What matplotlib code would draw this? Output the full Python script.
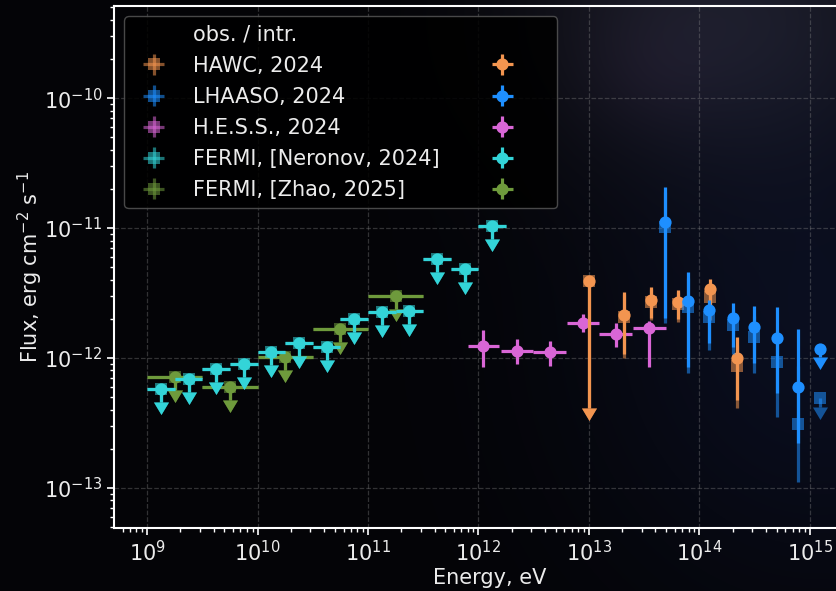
import numpy as np
import matplotlib
matplotlib.use("Agg")
import matplotlib.pyplot as plt
from matplotlib.markers import MarkerStyle
from matplotlib.path import Path
from matplotlib.ticker import LogLocator, NullFormatter

# ---------------- data ----------------
hawc_E = [1.0e13, 2.09e13, 3.67e13, 6.46e13, 1.26e14, 2.19e14]
hawc_intr = [3.9e-12, 2.14e-12, 2.79e-12, 2.70e-12, 3.40e-12, 1.00e-12]
hawc_intr_hi = [3.9e-12, 3.22e-12, 3.51e-12, 3.33e-12, 4.06e-12, 1.45e-12]
hawc_intr_lo = [4.1e-13, 1.07e-12, 2.03e-12, 2.00e-12, 2.26e-12, 4.75e-13]
hawc_obs = [3.9e-12, 2.08e-12, 2.70e-12, 2.60e-12, 2.94e-12, 8.7e-13]
hawc_obs_hi = [3.9e-12, 3.1e-12, 3.4e-12, 3.2e-12, 3.5e-12, 1.26e-12]
hawc_obs_lo = [4.1e-13, 1.0e-12, 1.95e-12, 1.9e-12, 1.95e-12, 4.1e-13]
hawc_ul = [True, False, False, False, False, False]

lhaaso_E = [4.9e13, 7.9e13, 1.23e14, 2.0e14, 3.15e14, 5.0e14, 7.9e14, 1.25e15]
lhaaso_intr = [1.11e-11, 2.74e-12, 2.34e-12, 2.03e-12, 1.73e-12, 1.43e-12, 5.98e-13, 1.17e-12]
lhaaso_intr_hi = [2.07e-11, 4.59e-12, 2.79e-12, 2.65e-12, 2.51e-12, 2.47e-12, 1.67e-12, 1.17e-12]
lhaaso_intr_lo = [2.03e-12, 8.5e-13, 1.30e-12, 1.22e-12, 9.2e-13, 5.4e-13, 2.22e-13, 1.02e-12]
lhaaso_obs = [1.02e-11, 2.47e-12, 2.07e-12, 1.79e-12, 1.45e-12, 9.3e-13, 3.1e-13, 4.9e-13]
lhaaso_obs_hi = [1.9e-11, 4.1e-12, 2.47e-12, 2.33e-12, 2.1e-12, 1.6e-12, 8.7e-13, 4.9e-13]
lhaaso_obs_lo = [1.87e-12, 7.7e-13, 1.15e-12, 1.07e-12, 7.7e-13, 3.5e-13, 1.11e-13, 4.2e-13]
lhaaso_ul = [False, False, False, False, False, False, False, True]

hess_E = [1.10e12, 2.24e12, 4.47e12, 8.9e12, 1.77e13, 3.52e13]
hess_E_lo = [8.1e11, 1.61e12, 3.13e12, 6.37e12, 1.24e13, 2.52e13]
hess_E_hi = [1.54e12, 3.13e12, 6.24e12, 1.24e13, 2.47e13, 5.0e13]
hess_flux = [1.24e-12, 1.13e-12, 1.11e-12, 1.86e-12, 1.53e-12, 1.70e-12]
hess_flux_hi = [1.64e-12, 1.40e-12, 1.35e-12, 2.18e-12, 1.86e-12, 1.93e-12]
hess_flux_lo = [8.5e-13, 9.0e-13, 8.7e-13, 1.58e-12, 1.22e-12, 8.5e-13]

fermi_n_E = [1.33e9, 2.37e9, 4.22e9, 7.5e9, 1.33e10, 2.37e10, 4.22e10,
             7.5e10, 1.33e11, 2.37e11, 4.22e11, 7.5e11, 1.33e12]
fermi_n_edges = [1e9, 1.78e9, 3.16e9, 5.62e9, 1e10, 1.78e10, 3.16e10,
                 5.62e10, 1e11, 1.78e11, 3.16e11, 5.62e11, 1e12, 1.78e12]
fermi_n_ul = [5.78e-13, 6.9e-13, 8.2e-13, 9.0e-13, 1.11e-12, 1.30e-12, 1.22e-12,
              2.0e-12, 2.26e-12, 2.30e-12, 5.78e-12, 4.84e-12, 1.035e-11]

fermi_z_E = [1.78e9, 5.62e9, 1.78e10, 5.62e10, 1.78e11]
fermi_z_edges = [1e9, 3.16e9, 1e10, 3.16e10, 1e11, 3.16e11]
fermi_z_ul = [7.14e-13, 5.98e-13, 1.02e-12, 1.67e-12, 3.0e-12]

labels = ["HAWC, 2024", "LHAASO, 2024", "H.E.S.S., 2024",
          "FERMI, [Neronov, 2024]", "FERMI, [Zhao, 2025]"]
header = "obs. / intr."

x_ticks = [1e9, 1e10, 1e11, 1e12, 1e13, 1e14, 1e15]
y_ticks = [1e-13, 1e-12, 1e-11, 1e-10]

# ---------------- style ----------------
C_HAWC = "#f39550"
C_LHAASO = "#1e8fff"
C_HESS = "#d966d6"
C_FN = "#33d4d8"
C_FZ = "#6e9a3c"
TXT = "#ececec"
MS = 8.8
LW = 2.3
OBS_ALPHA = 0.55
UL_FRAC = 0.21
FS = 15

plt.rcParams["font.family"] = ["DejaVu Sans"]

W, H = 836, 591
fig = plt.figure(figsize=(W / 100, H / 100), dpi=100, facecolor="black")

# background glow (pixel image behind everything)
yy, xx = np.mgrid[0:1:H * 1j, 0:1:W * 1j]
img = np.zeros((H, W, 3))
img += np.array([4, 4, 7]) / 255.0
g1 = np.exp(-(((xx - 0.86) / 0.24) ** 2 + ((yy - 0.02) / 0.25) ** 2))
img += g1[..., None] * np.array([24, 24, 32]) / 255.0
g2 = np.exp(-(((xx - 0.98) / 0.28) ** 2 + ((yy - 0.55) / 0.45) ** 2))
img += g2[..., None] * np.array([6, 10, 24]) / 255.0
g3 = np.exp(-(((xx - 0.78) / 0.08) ** 2 + ((yy - 0.12) / 0.1) ** 2))
img += g3[..., None] * np.array([5, 2, 5]) / 255.0
fig.figimage(np.clip(img, 0, 1), xo=0, yo=0, origin="upper", zorder=-10)

ax = fig.add_axes([114 / W, 63 / H, (865 - 114) / W, (528 - 6) / H])
ax.set_facecolor("none")
ax.set_xscale("log")
ax.set_yscale("log")
ax.set_xlim(10 ** 8.70, 10 ** 15.50)
ax.set_ylim(10 ** -13.31, 10 ** -9.29)
ax.set_xticks(x_ticks)
ax.set_yticks(y_ticks)
ax.xaxis.set_minor_locator(LogLocator(base=10, subs=np.arange(2, 10), numticks=30))
ax.yaxis.set_minor_locator(LogLocator(base=10, subs=np.arange(2, 10), numticks=30))
ax.xaxis.set_minor_formatter(NullFormatter())
ax.yaxis.set_minor_formatter(NullFormatter())

arrow_marker = MarkerStyle(Path([(-0.6, 0.0), (0.6, 0.0), (0.0, -1.0), (-0.6, 0.0)],
                                [Path.MOVETO, Path.LINETO, Path.LINETO, Path.CLOSEPOLY]))


def fix_arrows(container, color, alpha=1.0):
    for cl in container[1]:
        if cl.get_marker() in (11, 10):
            cl.set_marker(arrow_marker)
            cl.set_markersize(18)
            cl.set_markerfacecolor(color)
            cl.set_markeredgewidth(0)
            cl.set_alpha(alpha)


def draw(E, F, lo, hi, ul, color, marker, alpha, xlo=None, xhi=None, z=3):
    F = np.asarray(F)
    yerr = [F - np.asarray(lo), np.asarray(hi) - F]
    xerr = None
    if xlo is not None:
        E_a = np.asarray(E)
        xerr = [E_a - np.asarray(xlo), np.asarray(xhi) - E_a]
    c = ax.errorbar(E, F, yerr=yerr, xerr=xerr, uplims=ul, fmt=marker, color=color,
                    ms=MS, elinewidth=LW, capsize=0, alpha=alpha, mew=0, zorder=z)
    fix_arrows(c, color, alpha)
    return c


# Fermi Zhao
fz_lo = np.asarray(fermi_z_ul) * (1 - UL_FRAC)
draw(fermi_z_E, fermi_z_ul, fz_lo, fermi_z_ul, True, C_FZ, "s", OBS_ALPHA,
     fermi_z_edges[:-1], fermi_z_edges[1:], z=3)
draw(fermi_z_E, fermi_z_ul, fz_lo, fermi_z_ul, True, C_FZ, "o", 1.0,
     fermi_z_edges[:-1], fermi_z_edges[1:], z=4)
# Fermi Neronov
fn_lo = np.asarray(fermi_n_ul) * (1 - UL_FRAC)
draw(fermi_n_E, fermi_n_ul, fn_lo, fermi_n_ul, True, C_FN, "s", OBS_ALPHA,
     fermi_n_edges[:-1], fermi_n_edges[1:], z=5)
draw(fermi_n_E, fermi_n_ul, fn_lo, fermi_n_ul, True, C_FN, "o", 1.0,
     fermi_n_edges[:-1], fermi_n_edges[1:], z=6)
# HESS
draw(hess_E, hess_flux, hess_flux_lo, hess_flux_hi, False, C_HESS, "o", 1.0,
     hess_E_lo, hess_E_hi, z=7)
# HAWC
draw(hawc_E, hawc_obs, hawc_obs_lo, hawc_obs_hi, hawc_ul, C_HAWC, "s", OBS_ALPHA, z=8)
draw(hawc_E, hawc_intr, hawc_intr_lo, hawc_intr_hi, hawc_ul, C_HAWC, "o", 1.0, z=9)
# LHAASO
draw(lhaaso_E, lhaaso_obs, lhaaso_obs_lo, lhaaso_obs_hi, lhaaso_ul, C_LHAASO, "s", OBS_ALPHA, z=10)
draw(lhaaso_E, lhaaso_intr, lhaaso_intr_lo, lhaaso_intr_hi, lhaaso_ul, C_LHAASO, "o", 1.0, z=11)

# axes styling
for s in ax.spines.values():
    s.set_color("white")
    s.set_linewidth(1.5)
ax.tick_params(which="both", colors="white", labelcolor=TXT, labelsize=FS, direction="out")
ax.tick_params(which="major", length=5, width=1.2)
ax.tick_params(which="minor", length=3, width=1.0)
ax.grid(True, which="major", ls="--", color="#8a8a8a", alpha=0.35, lw=0.9)
ax.set_xlabel("Energy, eV", color=TXT, fontsize=FS, labelpad=2)
ax.set_ylabel("Flux, erg cm$^{-2}$ s$^{-1}$", color=TXT, fontsize=FS, labelpad=-1)

# legend proxies
cols = [C_HAWC, C_LHAASO, C_HESS, C_FN, C_FZ]
caps = [3, 3, 0, 3, 3]
obs_h, intr_h = [], []
for col, cp in zip(cols, caps):
    h1 = ax.errorbar([np.nan], [np.nan], xerr=[1.0], yerr=[1.0], fmt="s", color=col,
                     ms=MS, elinewidth=LW, capsize=cp, capthick=LW, alpha=OBS_ALPHA, mew=0)
    h2 = ax.errorbar([np.nan], [np.nan], xerr=[1.0], yerr=[1.0], fmt="o", color=col,
                     ms=MS, elinewidth=LW, capsize=cp, capthick=LW, mew=0)
    obs_h.append(h1)
    intr_h.append(h2)
blank = plt.Line2D([], [], alpha=0)
handles = [blank] + obs_h + [blank] + intr_h
leg_labels = [header] + labels + [" "] * 6
leg = ax.legend(handles, leg_labels, loc="upper left", ncol=2, fontsize=FS,
                columnspacing=2.0, handletextpad=0.9, labelspacing=0.53,
                frameon=True, facecolor="black", edgecolor="#555555", framealpha=0.85)
for t in leg.get_texts():
    t.set_color(TXT)

fig.savefig("out.png", dpi=100, facecolor="black")
